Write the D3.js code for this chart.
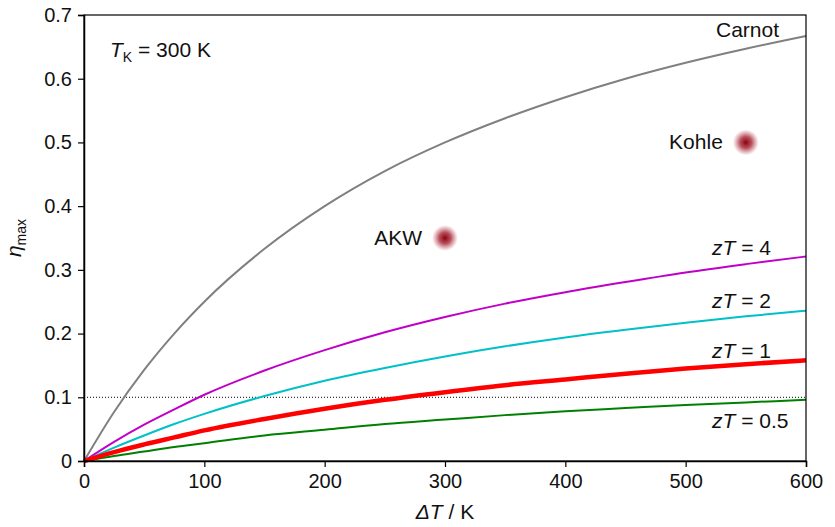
<!DOCTYPE html>
<html>
<head>
<meta charset="utf-8">
<script src="https://cdn.jsdelivr.net/npm/d3@7"></script>
<style>
    body { margin: 0; background: #fff; }
    text { font-family: "Liberation Sans", Arial, sans-serif; fill: #111; }
</style>
</head>
<body>
<div id="chart"></div>
<script>
    'use strict';

    // temperature difference, K
    var deltaT = [0, 25, 50, 75, 100, 150, 200, 250, 300, 350, 400, 450, 500, 550, 600];

    // max efficiency
    var carnot = [0, 0.077, 0.143, 0.200, 0.250, 0.333, 0.400, 0.455, 0.500, 0.538, 0.571, 0.600, 0.625, 0.647, 0.667];
    var zt4 = [0, 0.030, 0.057, 0.081, 0.104, 0.142, 0.174, 0.202, 0.226, 0.247, 0.265, 0.281, 0.296, 0.309, 0.321];
    var zt2 = [0, 0.021, 0.040, 0.058, 0.074, 0.102, 0.126, 0.146, 0.164, 0.180, 0.194, 0.206, 0.217, 0.227, 0.236];
    var zt1 = [0, 0.014, 0.026, 0.037, 0.048, 0.066, 0.082, 0.096, 0.108, 0.119, 0.128, 0.137, 0.145, 0.152, 0.158];
    var zt05 = [0, 0.008, 0.015, 0.022, 0.028, 0.040, 0.049, 0.058, 0.065, 0.072, 0.078, 0.083, 0.088, 0.092, 0.096];

    // power plants (AKW, Kohle)
    var plantNames = ["AKW", "Kohle"];
    var plantDT = [300, 550];
    var plantEta = [0.35, 0.5];

    var xTicks = [0, 100, 200, 300, 400, 500, 600];
    var yTicks = [0, 0.1, 0.2, 0.3, 0.4, 0.5, 0.6, 0.7];

    var w = 835,
        h = 527,
        margin = { top: 15, right: 29, bottom: 66, left: 84 };
    var iw = w - margin.left - margin.right,
        ih = h - margin.top - margin.bottom;

    var svg = d3.select("#chart").append("svg")
        .attr("width", w)
        .attr("height", h);

    var defs = svg.append("defs");
    var grad = defs.append("radialGradient").attr("id", "glow");
    grad.append("stop").attr("offset", "0%").attr("stop-color", "#8b0010").attr("stop-opacity", 1);
    grad.append("stop").attr("offset", "45%").attr("stop-color", "#a01828").attr("stop-opacity", 0.75);
    grad.append("stop").attr("offset", "100%").attr("stop-color", "#c04050").attr("stop-opacity", 0);

    var g = svg.append("g")
        .attr("transform", "translate(" + margin.left + "," + margin.top + ")");

    var x = d3.scaleLinear().domain([0, 600]).range([0, iw]),
        y = d3.scaleLinear().domain([0, 0.7]).range([ih, 0]);

    // reference line at 0.1
    g.append("line")
        .attr("x1", 0).attr("x2", iw)
        .attr("y1", y(0.1)).attr("y2", y(0.1))
        .attr("stroke", "#000")
        .attr("stroke-width", 1)
        .attr("stroke-dasharray", "1,2");

    var series = [
        { name: "Carnot", values: carnot, color: "#808080", width: 2 },
        { name: "zT4", values: zt4, color: "#c000c8", width: 2 },
        { name: "zT2", values: zt2, color: "#00c0c8", width: 2 },
        { name: "zT05", values: zt05, color: "#008000", width: 2 },
        { name: "zT1", values: zt1, color: "#ff0000", width: 4.5 }
    ];

    var line = d3.line()
        .x(function (d) { return x(d[0]); })
        .y(function (d) { return y(d[1]); })
        .curve(d3.curveMonotoneX);

    g.selectAll(".curve")
        .data(series)
        .enter().append("path")
        .attr("class", "curve")
        .attr("fill", "none")
        .attr("stroke", function (d) { return d.color; })
        .attr("stroke-width", function (d) { return d.width; })
        .attr("d", function (d) {
            return line(deltaT.map(function (t, i) { return [t, d.values[i]]; }));
        });

    // plant markers
    g.selectAll(".plant")
        .data(plantNames)
        .enter().append("circle")
        .attr("class", "plant")
        .attr("cx", function (d, i) { return x(plantDT[i]); })
        .attr("cy", function (d, i) { return y(plantEta[i]); })
        .attr("r", 13)
        .attr("fill", "url(#glow)");

    g.selectAll(".plant-label")
        .data(plantNames)
        .enter().append("text")
        .attr("class", "plant-label")
        .attr("x", function (d, i) { return x(plantDT[i]) - 23; })
        .attr("y", function (d, i) { return y(plantEta[i]) + 7; })
        .attr("text-anchor", "end")
        .attr("font-size", 21)
        .text(function (d) { return d; });

    // frame
    g.append("rect")
        .attr("width", iw).attr("height", ih)
        .attr("fill", "none")
        .attr("stroke", "#000")
        .attr("stroke-width", 1.2);

    var xAxis = g.append("g")
        .attr("transform", "translate(0," + ih + ")")
        .call(d3.axisBottom(x).tickValues(xTicks).tickSize(6).tickPadding(7).tickFormat(d3.format("d")));
    var yAxis = g.append("g")
        .call(d3.axisLeft(y).tickValues(yTicks).tickSize(6).tickPadding(6)
            .tickFormat(function (d) { return d === 0 ? "0" : d3.format(".1f")(d); }));

    [xAxis, yAxis].forEach(function (a) {
        a.select(".domain").attr("stroke-width", 1.5);
        a.selectAll(".tick line").attr("stroke-width", 1.2);
        a.selectAll("text")
            .attr("font-size", 20)
            .attr("font-family", "Liberation Sans, Arial, sans-serif")
            .attr("fill", "#111");
    });

    // axis titles
    var xt = svg.append("text")
        .attr("x", margin.left + iw / 2)
        .attr("y", 519)
        .attr("text-anchor", "middle")
        .attr("font-size", 21);
    xt.append("tspan").attr("font-style", "italic").text("ΔT");
    xt.append("tspan").text(" / K");

    var yt = svg.append("text")
        .attr("transform", "translate(21," + (margin.top + ih / 2) + ") rotate(-90)")
        .attr("text-anchor", "middle")
        .attr("font-size", 21);
    yt.append("tspan").attr("font-style", "italic").text("η");
    yt.append("tspan").attr("font-size", 14).attr("dy", 5).text("max");

    // annotations
    var tk = g.append("text")
        .attr("x", 26).attr("y", 42)
        .attr("font-size", 21);
    tk.append("tspan").attr("font-style", "italic").text("T");
    tk.append("tspan").attr("font-size", 14).attr("dy", 5).text("K");
    tk.append("tspan").attr("dy", -5).text(" = 300 K");

    g.append("text")
        .attr("x", iw - 27).attr("y", 22)
        .attr("text-anchor", "end")
        .attr("font-size", 21)
        .text("Carnot");

    var ztLabels = [
        { v: "4", y: 240 },
        { v: "2", y: 293 },
        { v: "1", y: 343 },
        { v: "0.5", y: 413 }
    ];
    ztLabels.forEach(function (d) {
        var t = g.append("text")
            .attr("x", 628).attr("y", d.y)
            .attr("font-size", 21);
        t.append("tspan").attr("font-style", "italic").text("zT");
        t.append("tspan").text(" = " + d.v);
    });
</script>
</body>
</html>
